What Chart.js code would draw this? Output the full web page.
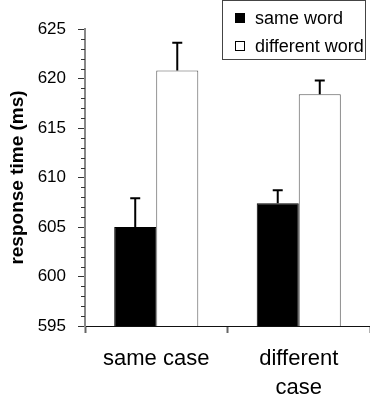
<!DOCTYPE html>
<html lang="en">
<head>
    <meta charset="UTF-8">
    <title>Response time</title>
    <script src="https://cdn.jsdelivr.net/npm/chart.js@4.4.1/dist/chart.umd.min.js"></script>
    <style>
        body {
            margin: 0;
            background: #fff;
        }

        .chart-container {
            position: relative;
            width: 370px;
            height: 401px;
        }
    </style>
</head>
<body>

    <div class="chart-container">
        <canvas id="chart"></canvas>
    </div>

<script>

// values
var categories = ['same case', ['different', 'case']];
var sameWord = [605.0, 607.4];
var sameWordErr = [2.9, 1.3];
var diffWord = [620.8, 618.4];
var diffWordErr = [2.8, 1.4];
var yMin = 595, yMax = 625;

var FONT = "'Liberation Sans', Arial, sans-serif";

// upward error bars with a cap
var errorBars = {
    id: 'errorBars',
    afterDatasetsDraw(chart) {
        var c = chart.ctx;
        var y = chart.scales.y;
        c.save();
        c.strokeStyle = '#000';
        c.lineWidth = 2;
        chart.data.datasets.forEach((ds, i) => {
            var meta = chart.getDatasetMeta(i);
            meta.data.forEach((bar, j) => {
                var top = y.getPixelForValue(ds.data[j] + ds.errors[j]);
                c.beginPath();
                c.moveTo(bar.x, bar.y);
                c.lineTo(bar.x, top);
                c.moveTo(bar.x - 5, top);
                c.lineTo(bar.x + 5, top);
                c.stroke();
            });
        });
        c.restore();
    }
};

// small ticks between the labelled ones
var minorTicks = {
    id: 'minorTicks',
    afterDraw(chart) {
        var c = chart.ctx;
        var y = chart.scales.y;
        var left = chart.chartArea.left;
        c.save();
        c.strokeStyle = '#333';
        c.lineWidth = 1;
        for (var v = yMin; v <= yMax; v++) {
            if (v % 5 === 0) continue;
            var py = Math.round(y.getPixelForValue(v)) + 0.5;
            c.beginPath();
            c.moveTo(left - 4, py);
            c.lineTo(left, py);
            c.stroke();
        }
        c.restore();
    }
};

// boxed legend at the top right, overlapping the plot
var boxLegend = {
    id: 'boxLegend',
    afterDraw(chart) {
        var c = chart.ctx;
        c.save();
        c.fillStyle = '#fff';
        c.fillRect(222, 0, 143, 59);
        c.strokeStyle = '#444';
        c.lineWidth = 1;
        c.strokeRect(222.5, 0.5, 143, 59);
        c.font = '18px ' + FONT;
        c.textBaseline = 'middle';
        chart.data.datasets.forEach((ds, i) => {
            var cy = 18 + i * 28;
            c.fillStyle = ds.backgroundColor;
            c.fillRect(235, cy - 5, 10, 10);
            c.strokeStyle = '#000';
            c.strokeRect(235.5, cy - 4.5, 9, 9);
            c.fillStyle = '#000';
            c.fillText(ds.label, 255, cy + 1);
        });
        c.restore();
    }
};

var ctx = document.getElementById('chart').getContext('2d');

var chart = new Chart(ctx, {
    type: 'bar',
    data: {
        labels: categories,
        datasets: [
            {
                label: 'same word',
                data: sameWord,
                errors: sameWordErr,
                backgroundColor: '#000',
                borderColor: '#000',
                borderWidth: 1,
            },
            {
                label: 'different word',
                data: diffWord,
                errors: diffWordErr,
                backgroundColor: '#fff',
                borderColor: '#555',
                borderWidth: 1,
            },
        ]
    },
    options: {
        responsive: true,
        maintainAspectRatio: false,
        animation: false,
        layout: {
            padding: { top: 29, right: 0, bottom: 0, left: 0 }
        },
        datasets: {
            bar: {
                categoryPercentage: 0.59,
                barPercentage: 1.0,
            }
        },
        plugins: {
            legend: { display: false },
            tooltip: { enabled: false },
        },
        scales: {
            x: {
                afterFit(scale) { scale.height = 75; },
                grid: {
                    drawOnChartArea: false,
                    tickLength: 7,
                    tickColor: '#666',
                    tickWidth: 2,
                },
                border: { color: '#111', width: 1 },
                ticks: {
                    color: '#000',
                    padding: 12,
                    font: { family: FONT, size: 22, lineHeight: 1.3 },
                },
            },
            y: {
                min: yMin,
                max: yMax,
                afterFit(scale) { scale.width = 85; },
                grid: {
                    drawOnChartArea: false,
                    tickLength: 7,
                    tickColor: (c) => c.tick && c.tick.value % 5 === 0 ? '#333' : 'transparent',
                    tickWidth: 1,
                },
                border: { color: '#888', width: 2 },
                ticks: {
                    stepSize: 1,
                    autoSkip: false,
                    color: '#000',
                    padding: 12,
                    font: { family: FONT, size: 17 },
                    callback: (v) => v % 5 === 0 ? v : '',
                },
                title: {
                    display: true,
                    text: 'response time (ms)',
                    color: '#000',
                    padding: { top: 6, bottom: 0 },
                    font: { family: FONT, size: 19, weight: 'bold' },
                },
            },
        },
    },
    plugins: [errorBars, minorTicks, boxLegend]
});

</script>

</body>
</html>
